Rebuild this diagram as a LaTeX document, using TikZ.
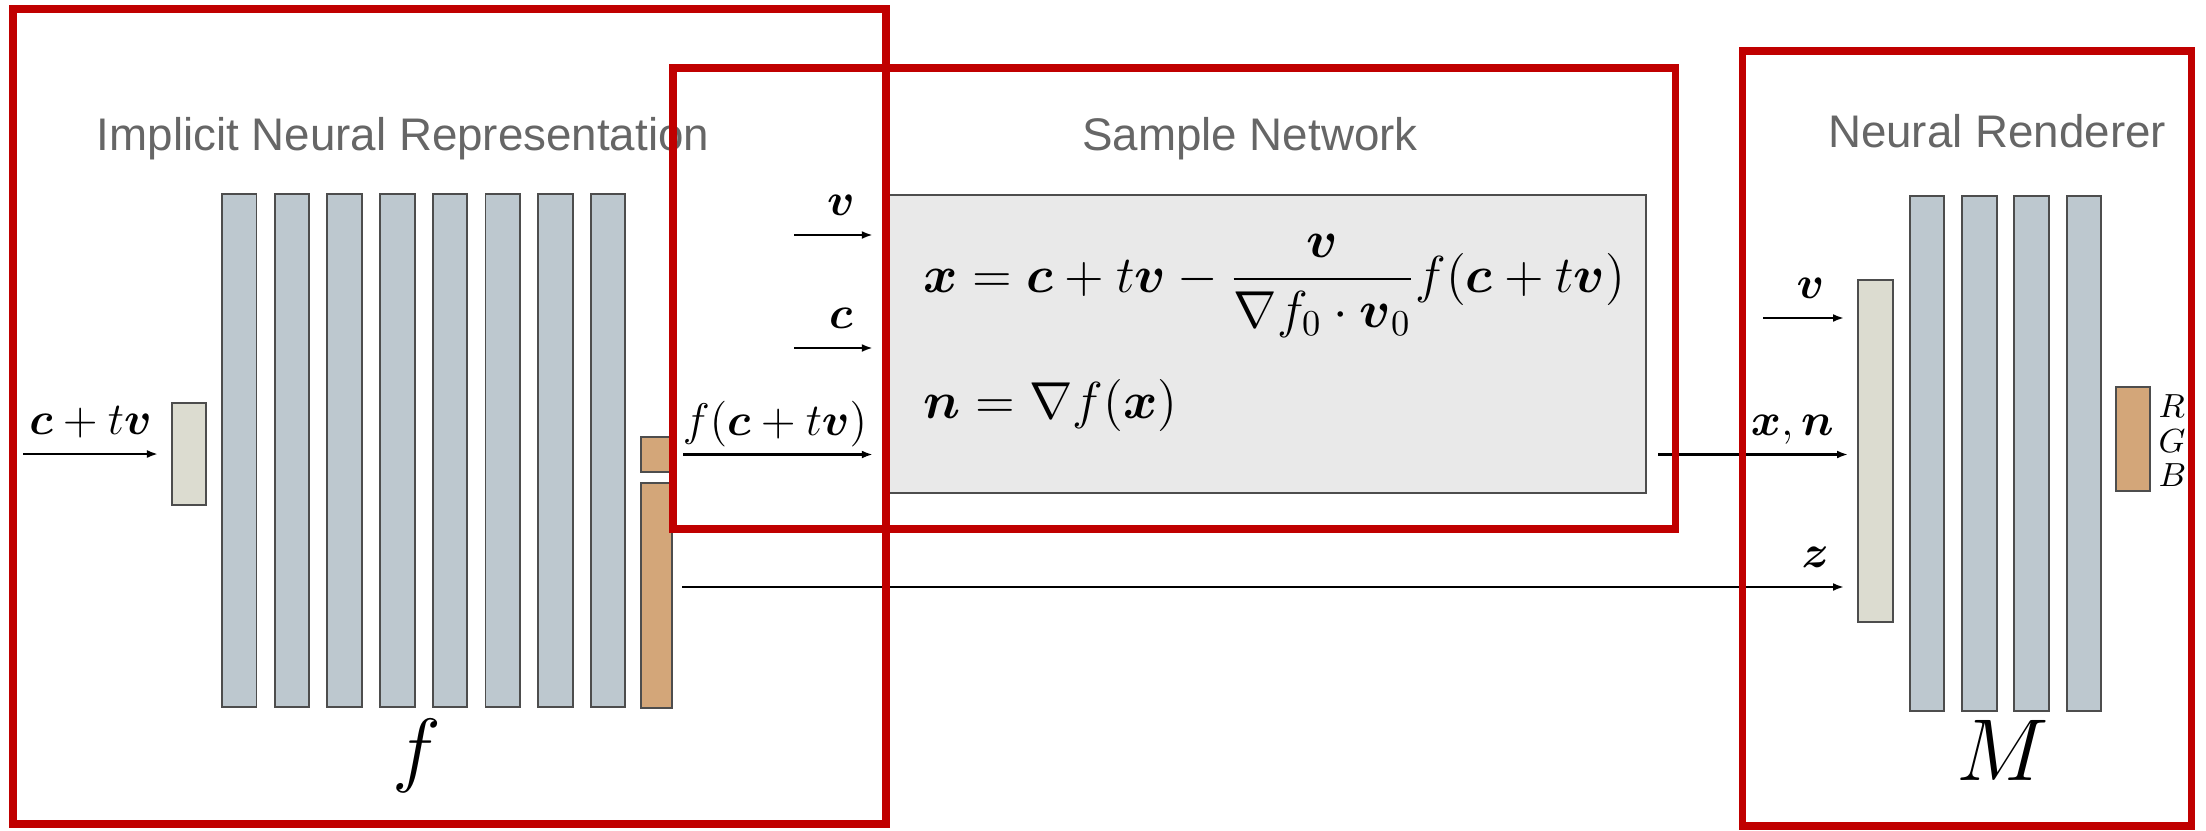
\RequirePackage{fix-cm}
\documentclass[tikz,border=0pt]{standalone}
\usepackage{amsmath}
\usepackage{amsfonts}
\usepackage{fontspec}
\usepackage{tikz}
\usetikzlibrary{arrows.meta}
\newfontfamily\titlefont{Liberation Sans}
\newcommand{\vecc}{\boldsymbol{c}}
\newcommand{\vecv}{\boldsymbol{v}}
\newcommand{\vecx}{\boldsymbol{x}}
\newcommand{\vecn}{\boldsymbol{n}}
\newcommand{\vecz}{\boldsymbol{z}}
\definecolor{barblue}{HTML}{BDC8CF}
\definecolor{inbeige}{HTML}{DCDCD0}
\definecolor{outorange}{HTML}{D3A679}
\definecolor{boxgray}{HTML}{E9E9E9}
\definecolor{framered}{HTML}{C00000}
\definecolor{titlegray}{HTML}{666666}
\definecolor{edgegray}{HTML}{4D4D4D}

\begin{document}
\begin{tikzpicture}[x=0.01cm,y=-0.01cm,
    layer/.style={draw=edgegray,line width=0.55pt,inner sep=0pt,outer sep=0pt},
    bar/.style={layer,fill=barblue,minimum width=3.45mm},
    inlayer/.style={layer,fill=inbeige},
    outlayer/.style={layer,fill=outorange},
    arr/.style={line width=0.8pt,-{Latex[length=1.1mm,width=0.8mm]}},
    lbl/.style={above,inner sep=0pt,text depth=0pt,yshift=1.8mm,font=\fontsize{13}{15}\selectfont},
    title/.style={anchor=base,inner sep=0pt,text=titlegray,font=\titlefont\fontsize{13}{15}\selectfont},
    frame/.style={draw=framered,line width=2pt}]
  \useasboundingbox (0,0) rectangle (2206,830);

  \node[title] (inrtitle) at (403,150) {Implicit Neural Representation};
  \node[title] (samtitle) at (1250,150) {Sample Network};
  \node[title] (rentitle) at (1997,147) {Neural Renderer};

  \node[inlayer,minimum width=3.4mm,minimum height=10.2mm] (fin) at (189,454) {};
  \foreach \i in {1,...,8}
    \node[bar,minimum height=51.3mm] (f\i) at ({239.25+52.7*(\i-1)},450.5) {};
  \node[outlayer,minimum width=3.1mm,minimum height=3.5mm] (fval) at (656.5,454.5) {};
  \node[outlayer,minimum width=3.1mm,minimum height=22.5mm] (zvec) at (656.5,595.5) {};
  \node[anchor=base,inner sep=0pt,font=\fontsize{23.5}{26}\selectfont] (flabel) at (417,776) {$f$};

  \node[layer,fill=boxgray,minimum width=75.8mm,minimum height=29.8mm] (sample) at (1267,344) {};
  \node[anchor=west,inner sep=0pt,font=\fontsize{14.8}{17}\selectfont] (eqx) at (923,286)
    {$\displaystyle \vecx = \vecc + t\vecv - \frac{\vecv}{\nabla f_0 \cdot \vecv_0} f(\vecc + t\vecv)$};
  \node[anchor=west,inner sep=0pt,font=\fontsize{14.8}{17}\selectfont] (eqn) at (923,405)
    {$\vecn = \nabla f(\vecx)$};

  \node[inlayer,minimum width=3.5mm,minimum height=34.2mm] (rin) at (1875.5,451) {};
  \foreach \i in {1,...,4}
    \node[bar,minimum height=51.5mm] (m\i) at ({1927+52.3*(\i-1)},453.5) {};
  \node[outlayer,minimum width=3.4mm,minimum height=10.4mm] (rgb) at (2133,439) {};
  \node[anchor=west,inner sep=0pt,align=left,font=\fontsize{9.5}{9.8}\selectfont] (rgblabel) at (2158,441) {$R$\\$G$\\$B$};
  \node[anchor=base,inner sep=0pt,font=\fontsize{25}{28}\selectfont] (mlabel) at (2003,780) {$M$};

  \coordinate (cin) at (23,454);
  \coordinate (vin) at (794,235);
  \coordinate (cpos) at (794,348);
  \coordinate (vren) at (1763,318);
  \coordinate (zrow) at (0,587);

  \draw[arr,shorten >=1.4mm] (cin) -- (fin.west) node[lbl,midway,xshift=-0.7mm] {$\vecc + t\vecv$};
  \draw[arr,shorten >=1.5mm] (vin) -- (vin -| sample.west) node[lbl,midway] {$\vecv$};
  \draw[arr,shorten >=1.5mm] (cpos) -- (cpos -| sample.west) node[lbl,midway] {$\vecc$};
  \draw[arr,shorten <=1.1mm,shorten >=1.5mm] (fval.east) -- (fval.east -| sample.west) node[lbl,midway,xshift=-0.5mm] {$f(\vecc + t\vecv)$};
  \draw[arr,shorten <=1.2mm,shorten >=1mm] (fval.east -| sample.east) -- (fval.east -| rin.west) node[lbl,pos=0.69] {$\vecx,\vecn$};
  \draw[arr,shorten >=1.4mm] (vren) -- (vren -| rin.west) node[lbl,midway] {$\vecv$};
  \draw[arr,shorten <=1mm,shorten >=1.4mm] (zvec.east |- zrow) -- (rin.west |- zrow) node[lbl,pos=0.964] {$\vecz$};

  \draw[frame] (13,9) rectangle (886,824);
  \draw[frame] (673,68) rectangle (1675,529);
  \draw[frame] (1742,51) rectangle (2191,826);
\end{tikzpicture}
\end{document}
